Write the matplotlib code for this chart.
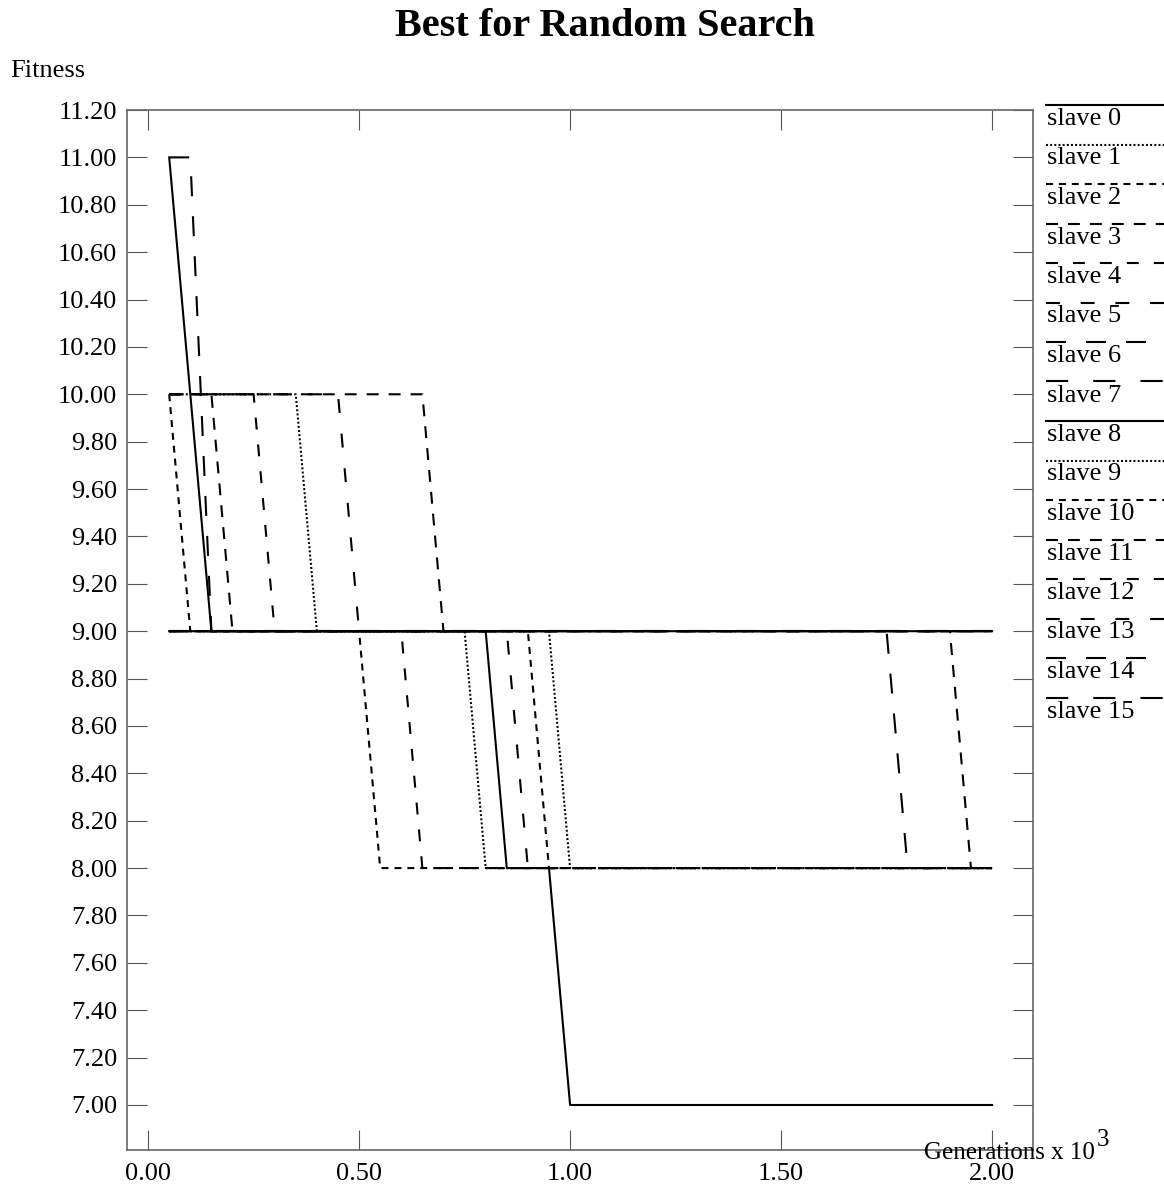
import numpy as np
import matplotlib
matplotlib.use('Agg')
import matplotlib.pyplot as plt
from matplotlib.lines import Line2D

plt.rcParams['font.family'] = ['Liberation Serif', 'DejaVu Serif']
plt.rcParams['lines.scale_dashes'] = False

# best fitness per slave, only at the generations (x 10^3) where the curve turns
x0, y0 = [0.05, 0.15, 2.00], [11, 9, 9]
x1, y1 = [0.05, 0.35, 0.40, 0.75, 0.80, 2.00], [10, 10, 9, 9, 8, 8]
x2, y2 = [0.05, 0.10, 0.50, 0.55, 2.00], [10, 9, 9, 8, 8]
x3, y3 = [0.05, 0.65, 0.70, 1.90, 1.95, 2.00], [10, 10, 9, 9, 8, 8]
x4, y4 = [0.05, 0.25, 0.30, 2.00], [10, 10, 9, 9]
x5, y5 = [0.05, 0.45, 0.50, 2.00], [10, 10, 9, 9]
x6, y6 = [0.05, 0.10, 0.15, 2.00], [11, 11, 9, 9]
x7, y7 = [0.05, 2.00], [9, 9]
x8, y8 = [0.05, 0.80, 0.85, 0.95, 1.00, 2.00], [9, 9, 8, 8, 7, 7]
x9, y9 = [0.05, 0.95, 1.00, 2.00], [9, 9, 8, 8]
x10, y10 = [0.05, 0.90, 0.95, 2.00], [9, 9, 8, 8]
x11, y11 = [0.05, 0.15, 0.20, 2.00], [10, 10, 9, 9]
x12, y12 = [0.05, 0.60, 0.65, 2.00], [9, 9, 8, 8]
x13, y13 = [0.05, 0.85, 0.90, 2.00], [9, 9, 8, 8]
x14, y14 = [0.05, 1.75, 1.80, 2.00], [9, 9, 8, 8]
x15, y15 = [0.05, 2.00], [9, 9]

series = [(x0, y0), (x1, y1), (x2, y2), (x3, y3), (x4, y4), (x5, y5),
          (x6, y6), (x7, y7), (x8, y8), (x9, y9), (x10, y10), (x11, y11),
          (x12, y12), (x13, y13), (x14, y14), (x15, y15)]
labels = ['slave %d' % i for i in range(16)]

xticks = [0.0, 0.5, 1.0, 1.5, 2.0]
yticks = np.round(np.arange(7.0, 11.21, 0.2), 2)

# xgraph style dash patterns, repeated every 8 slaves
styles = ['-', (0, (1.4, 1.6)), (0, (5, 4.3)), (0, (8.6, 7.2)),
          (0, (8.6, 10.8)), (0, (10, 15)), (0, (14.4, 14.4)), (0, (16, 18))]

W, H = 1164, 1194
fig = plt.figure(figsize=(W / 100, H / 100), dpi=100)
ax = fig.add_axes([127 / W, 1 - 1150 / H, (1033 - 127) / W, (1150 - 110) / H])

for i, (xs, ys) in enumerate(series):
    ax.plot(xs, ys, color='black', lw=1.5, linestyle=styles[i % 8])

ax.set_xlim(-0.05, 2.097)
ax.set_ylim(6.81, 11.2)
ax.set_xticks(xticks)
ax.set_xticklabels(['%.2f' % t for t in xticks])
ax.set_yticks(yticks)
ax.set_yticklabels(['%.2f' % t for t in yticks])
ax.tick_params(direction='in', length=14.4, width=0.8, color='#555555',
               top=True, right=True, labelsize=19)
ax.tick_params(axis='y', pad=7)
ax.tick_params(axis='x', pad=9)
for sp in ax.spines.values():
    sp.set_color('#666666')
    sp.set_linewidth(1.2)

fig.text(605 / W, 1 - 26 / H, 'Best for Random Search', ha='center', va='center',
         fontsize=29, fontweight='bold')
fig.text(10 / W, 1 - 77 / H, 'Fitness', ha='left', va='baseline', fontsize=19)
fig.text(924 / W, 1 - 1159 / H, 'Generations x 10', ha='left', va='baseline', fontsize=18)
fig.text(1097 / W, 1 - 1146 / H, '3', ha='left', va='baseline', fontsize=18)

# legend: a sample line above each label, down the right edge
for i in range(16):
    yl = 105 + 39.5 * i
    fig.add_artist(Line2D([1046 / W, 1.0], [1 - yl / H, 1 - yl / H], transform=fig.transFigure,
                          color='black', lw=1.5, linestyle=styles[i % 8]))
    fig.text(1047 / W, 1 - (yl + 3) / H, labels[i], ha='left', va='top', fontsize=19)

fig.savefig('out.png', dpi=100)
